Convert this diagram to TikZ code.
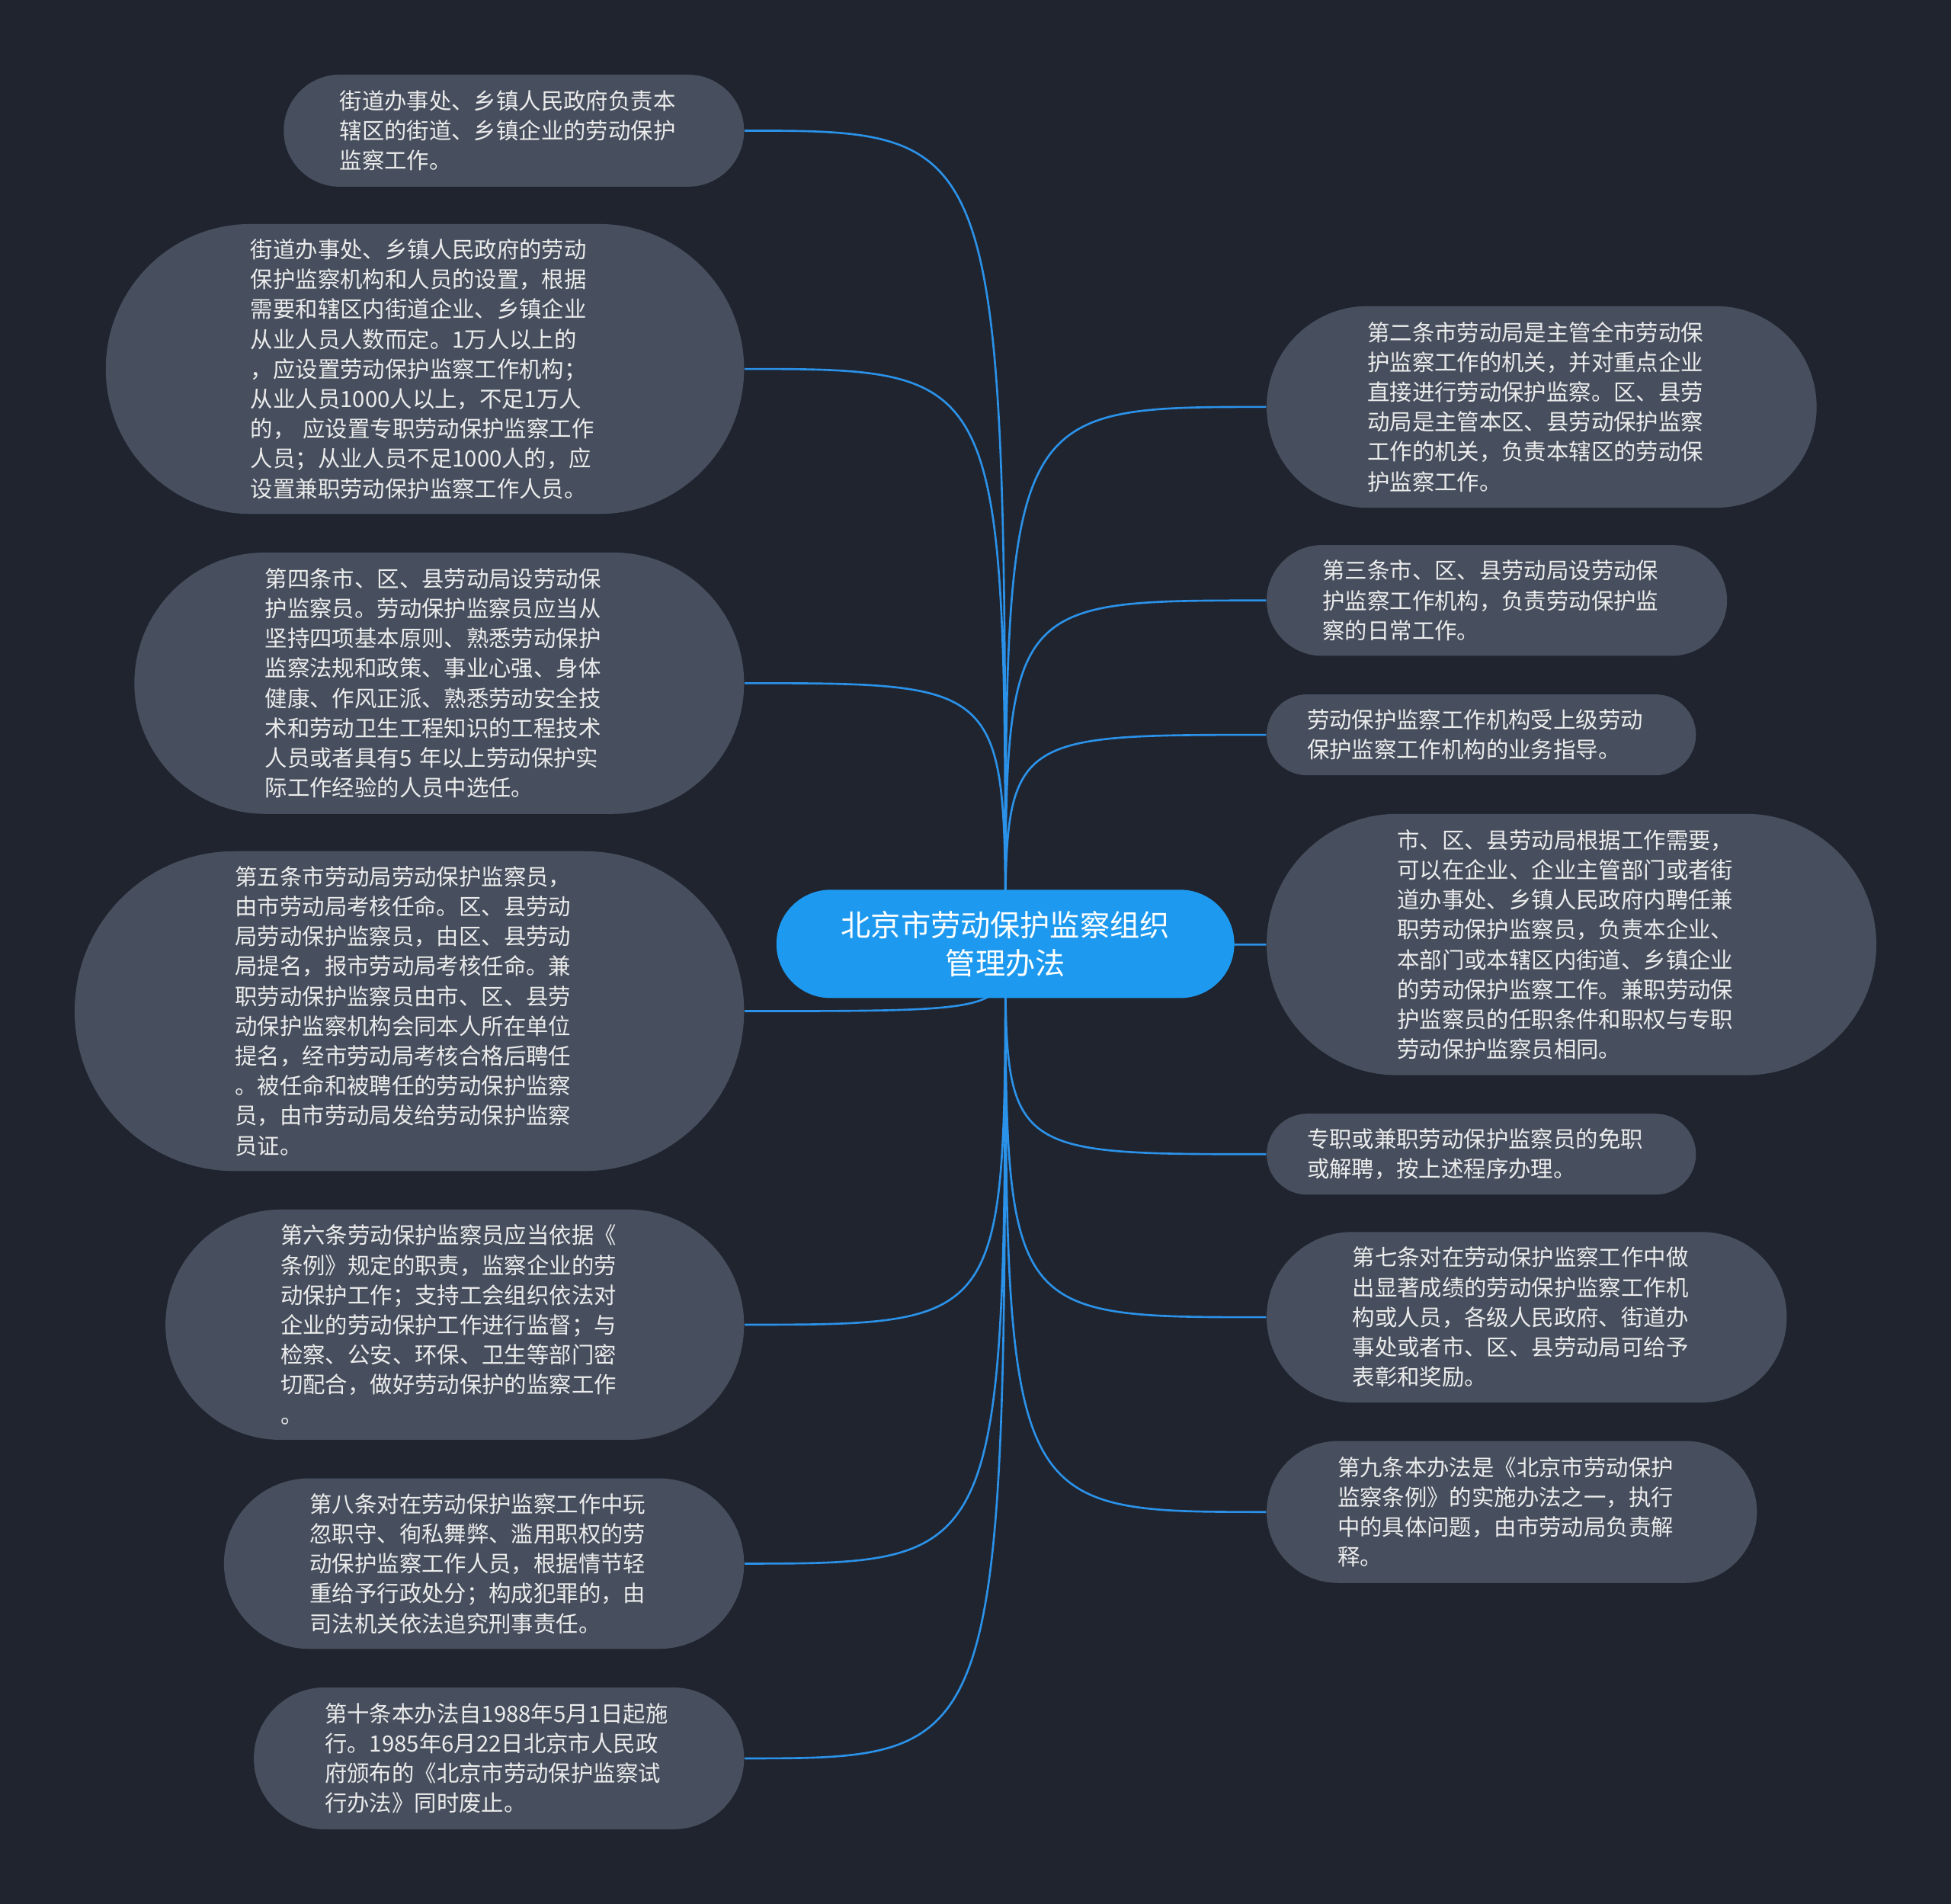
\documentclass[tikz,border=0pt]{standalone}
\usepackage{fontspec}
\newfontfamily\cjk{Noto Sans CJK SC}

\definecolor{canvas}{HTML}{20242F}
\definecolor{leaffill}{HTML}{474F5E}
\definecolor{rootfill}{HTML}{1D9AF0}
\definecolor{linkblue}{HTML}{2B92E9}

% one pixel of the layout grid
\newcommand{\px}{0.16327mm}

\tikzstyle{leaf}=[rectangle,
                  draw=none,
                  fill=leaffill,
                  text=white!92!black,
                  align=left,
                  text width=45.72mm,
                  inner sep=0pt,
                  font=\cjk\fontsize{8.36pt}{11.15pt}\selectfont]
\tikzstyle{root}=[rectangle,
                  draw=none,
                  fill=rootfill,
                  text=white,
                  align=center,
                  inner sep=0pt,
                  font=\cjk\fontsize{11.15pt}{14.4pt}\selectfont]
\tikzstyle{link}=[draw=linkblue,
                  line width=0.75pt]
\tikzset{pill/.style 2 args={minimum width=#1*\px,
                             minimum height=#2*\px,
                             rounded corners=#2*0.5*\px}}

\begin{document}
\begin{tikzpicture}[x=\px,y=-\px]

  % Canvas
  \fill[canvas] (0,0) rectangle (1568,1530);

  % Left branches
  \node (L1) [leaf,pill={370}{90}] at (413,105) {%
    街道办事处、乡镇人民政府负责本\\%
    辖区的街道、乡镇企业的劳动保护\\%
    监察工作。};
  \node (L2) [leaf,pill={513}{233}] at (341.5,296.5) {%
    街道办事处、乡镇人民政府的劳动\\%
    保护监察机构和人员的设置，根据\\%
    需要和辖区内街道企业、乡镇企业\\%
    从业人员人数而定。1万人以上的\\%
    ，应设置劳动保护监察工作机构；\\%
    从业人员1000人以上，不足1万人\\%
    的， 应设置专职劳动保护监察工作\\%
    人员；从业人员不足1000人的，应\\%
    设置兼职劳动保护监察工作人员。};
  \node (L3) [leaf,pill={490}{210}] at (353,549) {%
    第四条市、区、县劳动局设劳动保\\%
    护监察员。劳动保护监察员应当从\\%
    坚持四项基本原则、熟悉劳动保护\\%
    监察法规和政策、事业心强、身体\\%
    健康、作风正派、熟悉劳动安全技\\%
    术和劳动卫生工程知识的工程技术\\%
    人员或者具有5 年以上劳动保护实\\%
    际工作经验的人员中选任。};
  \node (L4) [leaf,pill={538}{257}] at (329,812.5) {%
    第五条市劳动局劳动保护监察员，\\%
    由市劳动局考核任命。区、县劳动\\%
    局劳动保护监察员，由区、县劳动\\%
    局提名，报市劳动局考核任命。兼\\%
    职劳动保护监察员由市、区、县劳\\%
    动保护监察机构会同本人所在单位\\%
    提名，经市劳动局考核合格后聘任\\%
    。被任命和被聘任的劳动保护监察\\%
    员，由市劳动局发给劳动保护监察\\%
    员证。};
  \node (L5) [leaf,pill={465}{185}] at (365.5,1064.5) {%
    第六条劳动保护监察员应当依据《\\%
    条例》规定的职责，监察企业的劳\\%
    动保护工作；支持工会组织依法对\\%
    企业的劳动保护工作进行监督；与\\%
    检察、公安、环保、卫生等部门密\\%
    切配合，做好劳动保护的监察工作\\%
    。};
  \node (L6) [leaf,pill={418}{137}] at (389,1256.5) {%
    第八条对在劳动保护监察工作中玩\\%
    忽职守、徇私舞弊、滥用职权的劳\\%
    动保护监察工作人员，根据情节轻\\%
    重给予行政处分；构成犯罪的，由\\%
    司法机关依法追究刑事责任。};
  \node (L7) [leaf,pill={394}{114}] at (401,1413) {%
    第十条本办法自1988年5月1日起施\\%
    行。1985年6月22日北京市人民政\\%
    府颁布的《北京市劳动保护监察试\\%
    行办法》同时废止。};

  % Right branches
  \node (R1) [leaf,pill={442}{162}] at (1239,327) {%
    第二条市劳动局是主管全市劳动保\\%
    护监察工作的机关，并对重点企业\\%
    直接进行劳动保护监察。区、县劳\\%
    动局是主管本区、县劳动保护监察\\%
    工作的机关，负责本辖区的劳动保\\%
    护监察工作。};
  \node (R2) [leaf,pill={370}{89}] at (1203,482.5) {%
    第三条市、区、县劳动局设劳动保\\%
    护监察工作机构，负责劳动保护监\\%
    察的日常工作。};
  \node (R3) [leaf,pill={345}{65}] at (1190.5,590.5) {%
    劳动保护监察工作机构受上级劳动\\%
    保护监察工作机构的业务指导。};
  \node (R4) [leaf,pill={490}{210}] at (1263,759) {%
    市、区、县劳动局根据工作需要，\\%
    可以在企业、企业主管部门或者街\\%
    道办事处、乡镇人民政府内聘任兼\\%
    职劳动保护监察员，负责本企业、\\%
    本部门或本辖区内街道、乡镇企业\\%
    的劳动保护监察工作。兼职劳动保\\%
    护监察员的任职条件和职权与专职\\%
    劳动保护监察员相同。};
  \node (R5) [leaf,pill={345}{65}] at (1190.5,927.5) {%
    专职或兼职劳动保护监察员的免职\\%
    或解聘，按上述程序办理。};
  \node (R6) [leaf,pill={418}{137}] at (1227,1058.5) {%
    第七条对在劳动保护监察工作中做\\%
    出显著成绩的劳动保护监察工作机\\%
    构或人员，各级人民政府、街道办\\%
    事处或者市、区、县劳动局可给予\\%
    表彰和奖励。};
  \node (R7) [leaf,pill={394}{114}] at (1215,1215) {%
    第九条本办法是《北京市劳动保护\\%
    监察条例》的实施办法之一，执行\\%
    中的具体问题，由市劳动局负责解\\%
    释。};

  % Connectors start under the central topic
  \coordinate (hub) at (808,758.5);
  \path[link]
    (hub) .. controls (hub |- L1.east) .. (L1.east)
    (hub) .. controls (hub |- L2.east) .. (L2.east)
    (hub) .. controls (hub |- L3.east) .. (L3.east)
    (hub) .. controls (hub |- L4.east) .. (L4.east)
    (hub) .. controls (hub |- L5.east) .. (L5.east)
    (hub) .. controls (hub |- L6.east) .. (L6.east)
    (hub) .. controls (hub |- L7.east) .. (L7.east)

    (hub) .. controls (hub |- R1.west) .. (R1.west)
    (hub) .. controls (hub |- R2.west) .. (R2.west)
    (hub) .. controls (hub |- R3.west) .. (R3.west)
    (hub) .. controls (hub |- R4.west) .. (R4.west)
    (hub) .. controls (hub |- R5.west) .. (R5.west)
    (hub) .. controls (hub |- R6.west) .. (R6.west)
    (hub) .. controls (hub |- R7.west) .. (R7.west)
    ;

  % Central topic
  \node (root) [root,pill={368}{87}] at (hub) {北京市劳动保护监察组织\\管理办法};

\end{tikzpicture}
\end{document}
